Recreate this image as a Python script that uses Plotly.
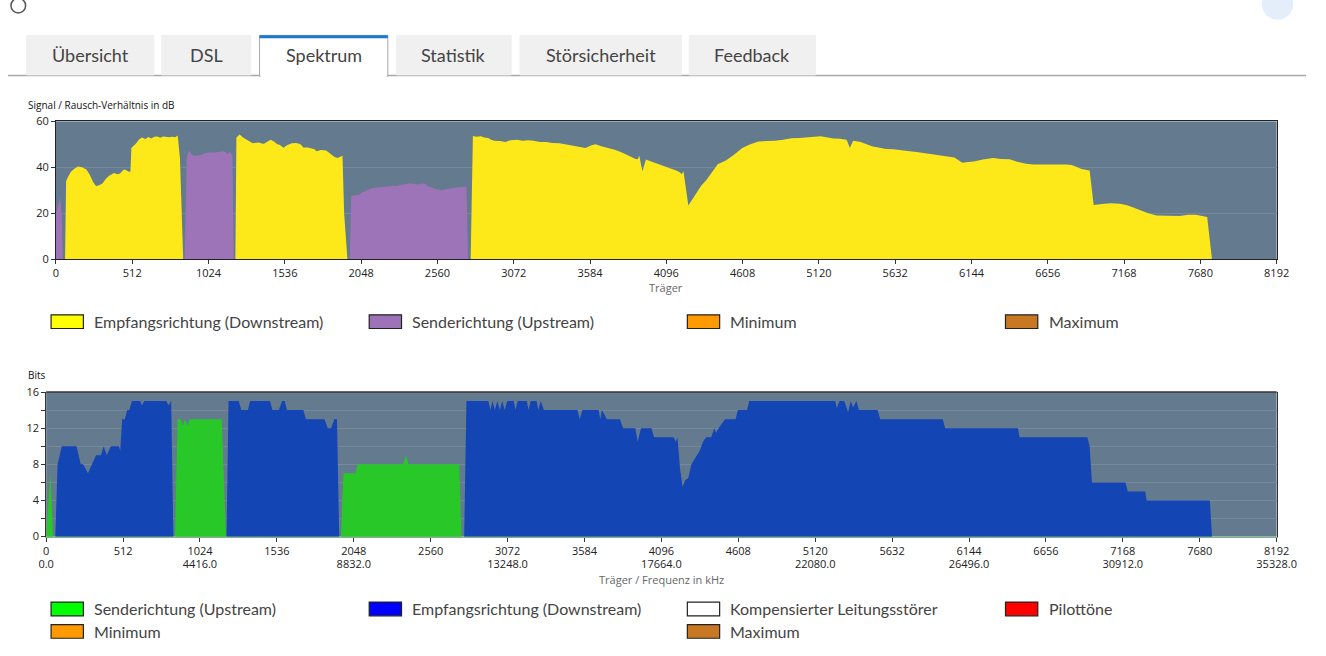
import plotly.graph_objects as go

W, H = 1326, 656

# --- Signal/Rausch-Verhältnis (dB), Träger ---
snr_down_carrier = [61, 68, 79, 100, 125, 149, 175, 204, 225, 250, 269, 290, 313, 335, 357, 390, 412, 430, 455, 470,
                    488, 500, 506, 520, 537, 556, 576, 600, 620, 640, 660, 680, 700, 720, 740, 760, 780, 800, 817, 832,
                    854,
                    1204, 1211, 1233, 1255, 1276, 1298, 1320, 1342, 1364, 1380, 1397, 1420, 1441, 1463, 1485, 1500,
                    1517, 1528, 1550, 1583, 1610, 1627, 1645, 1660, 1690, 1715, 1735, 1748, 1780, 1813, 1830, 1846,
                    1870, 1890, 1910, 1923, 1934, 1956,
                    2783, 2798, 2820, 2850, 2875, 2900, 2920, 2941, 2980, 3017, 3050, 3094, 3130, 3170, 3204, 3250,
                    3291, 3330, 3379, 3420, 3466, 3510, 3554, 3590, 3620, 3660, 3707, 3750, 3795, 3830, 3860, 3890,
                    3904, 3915, 3930, 3937, 3948, 3959, 3990, 4036, 4070, 4101, 4135, 4167, 4190, 4200, 4211, 4228,
                    4244, 4270, 4299, 4330, 4365, 4400, 4441, 4470, 4496, 4550, 4606, 4660, 4715, 4770, 4825, 4880,
                    4934, 4990, 5044, 5090, 5131, 5180, 5219, 5260, 5306, 5328, 5350, 5400, 5459, 5481, 5520, 5569,
                    5620, 5678, 5730, 5788, 5840, 5897, 5960, 6029, 6060, 6083, 6120, 6160, 6220, 6291, 6340, 6401,
                    6450, 6510, 6560, 6598, 6660, 6729, 6780, 6817, 6850, 6883, 6937, 6964, 7020, 7080, 7140, 7189,
                    7230, 7277, 7330, 7386, 7450, 7540, 7600, 7649, 7700, 7726, 7758]
snr_down_db = [0, 34, 35.5, 38, 39.5, 40.3, 40, 39, 37, 33.5, 31.8, 32.2, 33, 35, 36.3, 37.5, 37, 37.3, 39, 38.8,
               38, 38.2, 48.4, 49.2, 50.3, 52, 53, 52.3, 53.2, 52.5, 53.3, 53.4, 52.9, 53.4, 53.2, 53.1, 53.3, 53.1,
               53.8, 44, 0,
               0, 53, 54.3, 53, 52, 51.3, 50.5, 50.8, 50.8, 50.3, 50.2, 51.2, 52, 51.2, 50, 49.8, 49.2, 48.5, 49.6,
               50.5, 50.6, 50.4, 49.8, 48.6, 48.6, 48.3, 47.8, 47, 47.5, 47.3, 46.5, 45.6, 44.5, 44, 44.6, 45, 20, 0,
               0, 53.6, 53.3, 53.5, 53, 52.7, 52, 51.5, 51.4, 51, 51.8, 52, 51.6, 51.8, 51.5, 51, 51, 50.6, 50.5, 50,
               49.5, 49.2, 48.4, 49.5, 50, 49.2, 48.5, 47.6, 46.5, 45.4, 44.3, 43.6, 43.5, 45, 40, 38.3, 41, 43.4,
               42.6, 41.5, 40.6, 40, 39.2, 38.5, 37.6, 37, 38.4, 30, 23.3, 26, 29, 32, 34.5, 37.5, 41.3, 42.2, 43,
               45.5, 48.4, 50, 51.2, 51.4, 51.5, 52, 52.6, 52.8, 53, 53.2, 53.5, 53, 52.5, 52.4, 52, 48.5, 51.5, 51,
               49.5, 49.1, 48.6, 48, 47.8, 47.5, 47, 46.5, 46, 45.5, 45, 44.3, 43, 42, 42.3, 42.5, 43.4, 44, 43.6,
               43.5, 42.4, 41.5, 41.2, 41.2, 41.5, 41.5, 41.2, 41, 40.1, 39.2, 38.6, 23.6, 24, 24.3, 24.1, 23.5, 22.5,
               21.2, 20, 19, 18.8, 18.8, 19.3, 19.3, 18.7, 18.3, 0]

snr_up_carrier = [0, 14, 28, 38, 46,
                  863, 872, 878, 895, 910, 926, 950, 970, 992, 1014, 1036, 1058, 1080, 1100, 1123, 1140, 1150, 1167,
                  1184, 1193,
                  1971, 1982, 2010, 2032, 2054, 2086, 2110, 2130, 2160, 2196, 2230, 2262, 2285, 2305, 2340, 2371,
                  2400, 2437, 2459, 2480, 2503, 2525, 2546, 2570, 2590, 2623, 2645, 2667, 2700, 2722, 2755, 2766]
snr_up_db = [20, 24, 26.7, 20, 0,
             0, 40, 44.8, 47.2, 45.8, 45, 45, 45.2, 46, 46.4, 46.5, 46.3, 46.6, 46.8, 47, 46.7, 45.8, 46.8, 45.5, 0,
             0, 27.5, 27.8, 28, 29, 30, 30.6, 31, 31.2, 31.5, 31.6, 32, 31.8, 32, 32.6, 33, 32.7, 32.5, 33, 32.6,
             31.5, 31.2, 30.5, 30.4, 30, 30.5, 30.6, 31, 31.3, 31.5, 31.6, 0]

# --- Bits pro Träger ---
bits_up_carrier = [0, 28, 46, 858, 875, 897, 908, 923, 940, 956, 1169, 1197,
                   1962, 1979, 2059, 2074, 2374, 2396, 2413, 2750, 2765]
bits_up = [0, 7, 0, 0, 13, 13, 12.2, 13, 12.3, 13, 13, 0,
           0, 7, 7, 8, 8, 9, 8, 8, 0]

bits_down_carrier = [61, 76, 104, 202, 230, 246, 278, 306, 332, 365, 382, 404, 430, 484, 493, 506, 524, 539, 554,
                     571, 626, 637, 654, 800, 815, 832, 847,
                     1201, 1214, 1282, 1299, 1343, 1358, 1490, 1506, 1549, 1571, 1588, 1603, 1712, 1729, 1853, 1875,
                     1897, 1918, 1936, 1951,
                     2783, 2798, 2944, 2957, 2972, 2987, 3004, 3020, 3037, 3052, 3070, 3113, 3124, 3139, 3200, 3211,
                     3226, 3265, 3276, 3293, 3313, 3537, 3552, 3570, 3678, 3689, 3700, 3733, 3820, 3841, 3922, 3938,
                     3960, 4030, 4047, 4177, 4192, 4203, 4220, 4237, 4253, 4275, 4296, 4329, 4351, 4373, 4394, 4427,
                     4449, 4460, 4477, 4520, 4590, 4605, 4666, 4681, 5253, 5264, 5281, 5313, 5339, 5357, 5372, 5394,
                     5411, 5535, 5553, 5969, 5985, 6470, 6480, 6932, 6947, 6962, 7186, 7201, 7317, 7327, 7747, 7762]
bits_down = [0, 8, 10, 10, 8, 8, 7, 8, 9, 9, 10, 9, 10, 10, 9.5, 13, 13, 14, 14,
             15, 15, 14.5, 15, 15, 14.5, 15, 0,
             0, 15, 15, 14, 14, 15, 15, 14, 14, 15, 15, 14, 14, 13, 13, 12,
             12, 13, 13, 0,
             0, 15, 15, 14, 15, 14, 15, 14, 15, 14, 15, 15, 14, 15, 15, 14,
             15, 15, 14, 15, 14, 14, 13, 14, 14, 13, 14, 13, 13, 12, 12, 10.5,
             12, 12, 11, 11, 10.5, 11, 7.5, 5.5, 6.2, 6.5, 8, 9, 9.5, 10.5, 11, 11,
             12, 11.5, 12, 13, 13, 14, 14, 15, 15, 14.2, 15, 15, 13.8, 15, 14.3, 15,
             14, 14, 13, 13, 12, 12, 11, 11, 10, 6, 6, 5, 5, 4, 4, 0]

carrier_ticks = [0, 512, 1024, 1536, 2048, 2560, 3072, 3584, 4096, 4608, 5120, 5632, 6144, 6656, 7168, 7680, 8192]
freq_ticks = [0, 1024, 2048, 3072, 4096, 5120, 6144, 7168, 8192]
freq_labels = ["0.0", "4416.0", "8832.0", "13248.0", "17664.0", "22080.0", "26496.0", "30912.0", "35328.0"]

tabs = ["Übersicht", "DSL", "Spektrum", "Statistik", "Störsicherheit", "Feedback"]

legend_snr = [("Empfangsrichtung (Downstream)", "#ffff00"), ("Senderichtung (Upstream)", "#9e72b8"),
              ("Minimum", "#ff9900"), ("Maximum", "#c87822")]
legend_bits = [("Senderichtung (Upstream)", "#00ff00"), ("Empfangsrichtung (Downstream)", "#0000ff"),
               ("Kompensierter Leitungsstörer", "#ffffff"), ("Pilottöne", "#ff0000"),
               ("Minimum", "#ff9900"), None, ("Maximum", "#c87822"), None]

FONT = "Source Sans Pro, Lato, sans-serif"
TICKFONT = "Open Sans, sans-serif"
BG = "#637a8f"
GRID = "#76899c"


def px(x):
    return x / W


def py(y):
    return 1 - y / H


fig = go.Figure()

fig.add_trace(go.Scatter(x=snr_down_carrier, y=snr_down_db, mode="lines", fill="tozeroy",
                         fillcolor="#fde91a", line=dict(width=0, color="#fde91a"),
                         xaxis="x", yaxis="y", hoverinfo="skip"))
fig.add_trace(go.Scatter(x=snr_up_carrier, y=snr_up_db, mode="lines", fill="tozeroy",
                         fillcolor="#9e74b8", line=dict(width=0, color="#9e74b8"),
                         xaxis="x", yaxis="y", hoverinfo="skip"))
fig.add_trace(go.Scatter(x=bits_down_carrier, y=bits_down, mode="lines", fill="tozeroy",
                         fillcolor="#1345b4", line=dict(width=0, color="#1345b4"),
                         xaxis="x2", yaxis="y2", hoverinfo="skip"))
fig.add_trace(go.Scatter(x=bits_up_carrier, y=bits_up, mode="lines", fill="tozeroy",
                         fillcolor="#27c827", line=dict(width=0, color="#27c827"),
                         xaxis="x2", yaxis="y2", hoverinfo="skip"))
# invisible trace so the kHz label axis gets drawn
fig.add_trace(go.Scatter(x=freq_ticks, y=[0] * len(freq_ticks), mode="markers", marker=dict(opacity=0),
                         xaxis="x3", yaxis="y2", hoverinfo="skip"))

axis_common = dict(showline=True, linewidth=1, ticks="outside", ticklen=4, tickcolor="#333",
                   tickfont=dict(family=TICKFONT, size=11, color="#222"), zeroline=False)

fig.update_layout(
    showlegend=False, autosize=True,
    margin=dict(l=0, r=0, t=0, b=0),
    paper_bgcolor="white", plot_bgcolor=BG,
    xaxis=dict(domain=[px(49), px(1296)], range=[0, 8192], tickvals=carrier_ticks,
               showgrid=False, linecolor="#222", mirror=True, anchor="y", **axis_common),
    yaxis=dict(domain=[py(257), py(116)], range=[0, 60], tickvals=[0, 20, 40, 60],
               showgrid=True, gridcolor=GRID, gridwidth=1, linecolor="#222", mirror=True,
               anchor="x", **axis_common),
    xaxis2=dict(domain=[px(39), px(1296)], range=[0, 8192], tickvals=carrier_ticks,
                showgrid=False, linecolor="#78b87a", anchor="y2", **axis_common),
    # second label row (frequency in kHz) under the carrier numbers
    xaxis3=dict(domain=[px(39), px(1296)], range=[0, 8192], tickvals=freq_ticks, ticktext=freq_labels,
                overlaying="x2", anchor="y2", side="bottom", ticklabelstandoff=19,
                showline=False, showgrid=False, zeroline=False, ticks="",
                tickfont=dict(family=TICKFONT, size=11, color="#222")),
    yaxis2=dict(domain=[py(541), py(393)], range=[0, 16], tickvals=[0, 4, 8, 12, 16],
                showgrid=True, gridcolor=GRID, gridwidth=1, linecolor="#333", mirror=True,
                minor=dict(dtick=2, ticks="outside", ticklen=4, tickcolor="#333", showgrid=True,
                           gridcolor=GRID),
                anchor="x2", **axis_common),
)

shapes = []
annotations = []

# top border of the bits chart
shapes.append(dict(type="line", xref="paper", yref="paper", x0=px(39), x1=px(1296), y0=py(393), y1=py(393),
                   line=dict(color="#333", width=1.5)))

# header remnants
shapes.append(dict(type="circle", xref="paper", yref="paper", x0=px(3), x1=px(18), y0=py(5), y1=py(-10),
                   line=dict(color="#555", width=1.5)))
shapes.append(dict(type="circle", xref="paper", yref="paper", x0=px(1281), x1=px(1313), y0=py(12), y1=py(-20),
                   fillcolor="#e4eefa", line=dict(width=0)))

# tab bar
tab_x0 = [19, 157, 257, 397, 523, 696]
tab_x1 = [149, 248, 388, 514, 688, 825]
shapes.append(dict(type="line", xref="paper", yref="paper", x0=0, x1=1, y0=py(69), y1=py(69),
                   line=dict(color="#a8a8a8", width=1.5)))
for i, name in enumerate(tabs):
    active = name == "Spektrum"
    shapes.append(dict(type="rect", xref="paper", yref="paper", x0=px(tab_x0[i]), x1=px(tab_x1[i]),
                       y0=py(70 if active else 68.5), y1=py(28),
                       fillcolor="white" if active else "#f0f0f0",
                       line=dict(color="#a8a8a8" if active else "#f0f0f0", width=1)))
    if active:
        shapes.append(dict(type="rect", xref="paper", yref="paper", x0=px(tab_x0[i]), x1=px(tab_x1[i]),
                           y0=py(31), y1=py(28), fillcolor="#1a78d2", line=dict(width=0)))
        shapes.append(dict(type="line", xref="paper", yref="paper", x0=px(tab_x0[i] + 1), x1=px(tab_x1[i] - 1),
                           y0=py(69.5), y1=py(69.5), line=dict(color="white", width=2)))
    annotations.append(dict(text=name, xref="paper", yref="paper", x=px((tab_x0[i] + tab_x1[i]) / 2), y=py(48),
                            xanchor="center", yanchor="middle", showarrow=False,
                            font=dict(family=FONT, size=18, color="#444")))

# axis titles
annotations.append(dict(text="Signal / Rausch-Verhältnis in dB", xref="paper", yref="paper", x=px(18), y=py(99),
                        xanchor="left", yanchor="middle", showarrow=False,
                        font=dict(family=TICKFONT, size=10, color="#111")))
annotations.append(dict(text="Träger", xref="paper", yref="paper", x=px(672), y=py(286),
                        xanchor="center", yanchor="middle", showarrow=False,
                        font=dict(family=TICKFONT, size=11, color="#666")))
annotations.append(dict(text="Bits", xref="paper", yref="paper", x=px(18), y=py(376),
                        xanchor="left", yanchor="middle", showarrow=False,
                        font=dict(family=TICKFONT, size=10, color="#111")))
annotations.append(dict(text="Träger / Frequenz in kHz", xref="paper", yref="paper", x=px(668), y=py(585),
                        xanchor="center", yanchor="middle", showarrow=False,
                        font=dict(family=TICKFONT, size=11, color="#666")))


# hand-made legends in a 4 column grid
def add_legend(items, row_y):
    col_x = [44, 369, 694, 1019]
    for k, item in enumerate(items):
        if item is None:
            continue
        label, color = item
        x0 = col_x[k % 4]
        yc = row_y[k // 4]
        shapes.append(dict(type="rect", xref="paper", yref="paper", x0=px(x0), x1=px(x0 + 33),
                           y0=py(yc + 7), y1=py(yc - 7), fillcolor=color, line=dict(color="#222", width=1.2)))
        annotations.append(dict(text=label, xref="paper", yref="paper", x=px(x0 + 42), y=py(yc),
                                xanchor="left", yanchor="middle", showarrow=False,
                                font=dict(family=FONT, size=16, color="#444")))


add_legend(legend_snr, [321])
add_legend(legend_bits, [615, 638])

fig.update_layout(shapes=shapes, annotations=annotations)

# figure fills the browser window exactly, no page margin, no scrollbars
fig.write_html(
    "out.html",
    default_width="100vw", default_height="100vh",
    config=dict(displayModeBar=False, responsive=True),
    post_script="document.documentElement.style.overflow='hidden';"
                "document.body.style.margin='0';document.body.style.overflow='hidden';"
                "Plotly.Plots.resize(document.getElementById('{plot_id}'));",
)
